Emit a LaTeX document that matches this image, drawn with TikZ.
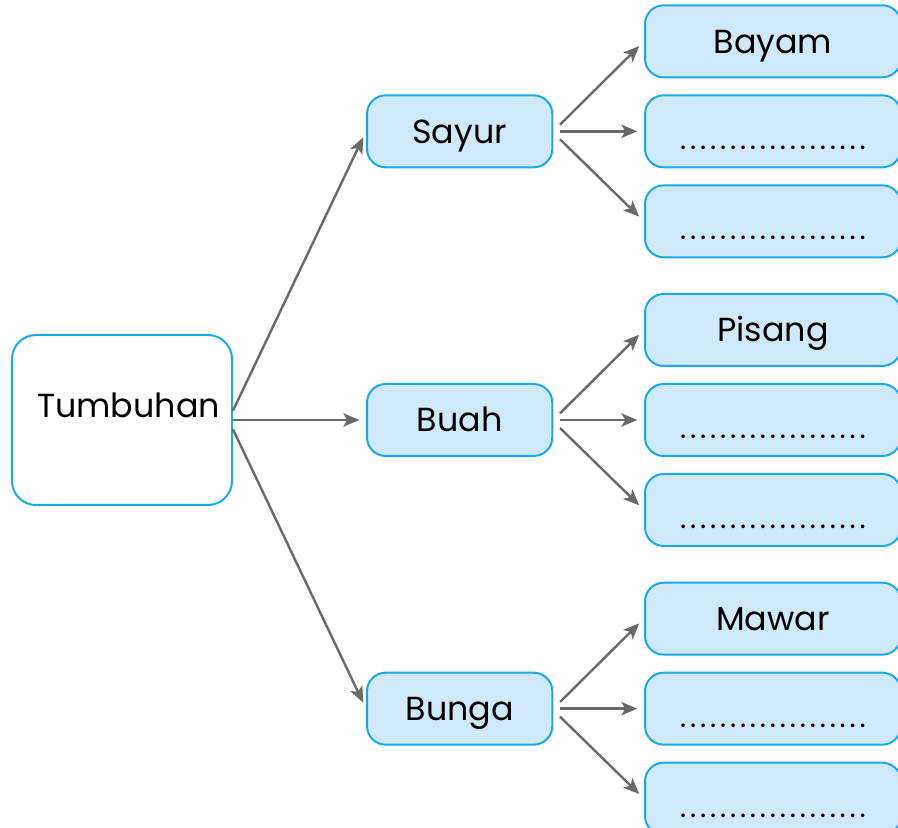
\documentclass[tikz,border=0pt]{standalone}
\usepackage{fontspec}
\setmainfont{Poppins}
\usetikzlibrary{arrows.meta,positioning}
\definecolor{garis}{RGB}{25,170,230}
\definecolor{isi}{RGB}{208,233,249}
\definecolor{abu}{RGB}{105,105,105}
\tikzset{
  induk/.style={draw=garis,line width=1.5pt,rounded corners=18pt,fill=white,
                minimum width=165pt,minimum height=127.5pt,font=\fontsize{25}{30}\selectfont,
                text height=18pt,text depth=21pt},
  golongan/.style={draw=garis,line width=1.5pt,rounded corners=14pt,fill=isi,
                   minimum width=139pt,minimum height=54pt,font=\fontsize{25}{30}\selectfont,
                   text height=18pt,text depth=0pt},
  contoh/.style={golongan,minimum width=192pt},
  isian/.style={contoh,text height=28pt,text depth=0pt,
                font=\fontsize{22}{26}\selectfont\addfontfeature{LetterSpace=13}},
  panah/.style={draw=abu,line width=1.8pt,-{Stealth[length=12pt,width=10pt,inset=3pt]},shorten >=5pt},
}
\begin{document}
\begin{tikzpicture}
  \useasboundingbox (-91.5pt,-305.25pt) rectangle (582pt,315pt);
  \node[induk] (tum) at (0,0) {\hspace*{10pt}Tumbuhan};
  \node[golongan,right=99.75pt of tum] (buah) {Buah};
  \node[golongan,above=161pt of buah] (sayur) {Sayur};
  \node[golongan,below=161pt of buah] (bunga) {Bunga};
  % sayur
  \node[isian,right=68pt of sayur] (s2) {...................};
  \node[contoh,above=12pt of s2] (s1) {Bayam};
  \node[isian,below=12pt of s2] (s3) {...................};
  % buah
  \node[isian,right=68pt of buah] (b2) {...................};
  \node[contoh,above=12pt of b2] (b1) {Pisang};
  \node[isian,below=12pt of b2] (b3) {...................};
  % bunga
  \node[isian,right=68pt of bunga] (g2) {...................};
  \node[contoh,above=12pt of g2] (g1) {Mawar};
  \node[isian,below=12pt of g2] (g3) {...................};
  \draw[panah] ([yshift=7pt]tum.east) -- (sayur.west);
  \draw[panah] (tum.east) -- (buah.west);
  \draw[panah] ([yshift=-7pt]tum.east) -- (bunga.west);
  \foreach \k/\a/\b/\c in {sayur/s1/s2/s3,buah/b1/b2/b3,bunga/g1/g2/g3}{
    \draw[panah] ([xshift=5pt,yshift=5pt]\k.east) -- (\a.west);
    \draw[panah] ([xshift=5pt]\k.east) -- (\b.west);
    \draw[panah] ([xshift=5pt,yshift=-6pt]\k.east) -- (\c.west);
  }
\end{tikzpicture}
\end{document}
